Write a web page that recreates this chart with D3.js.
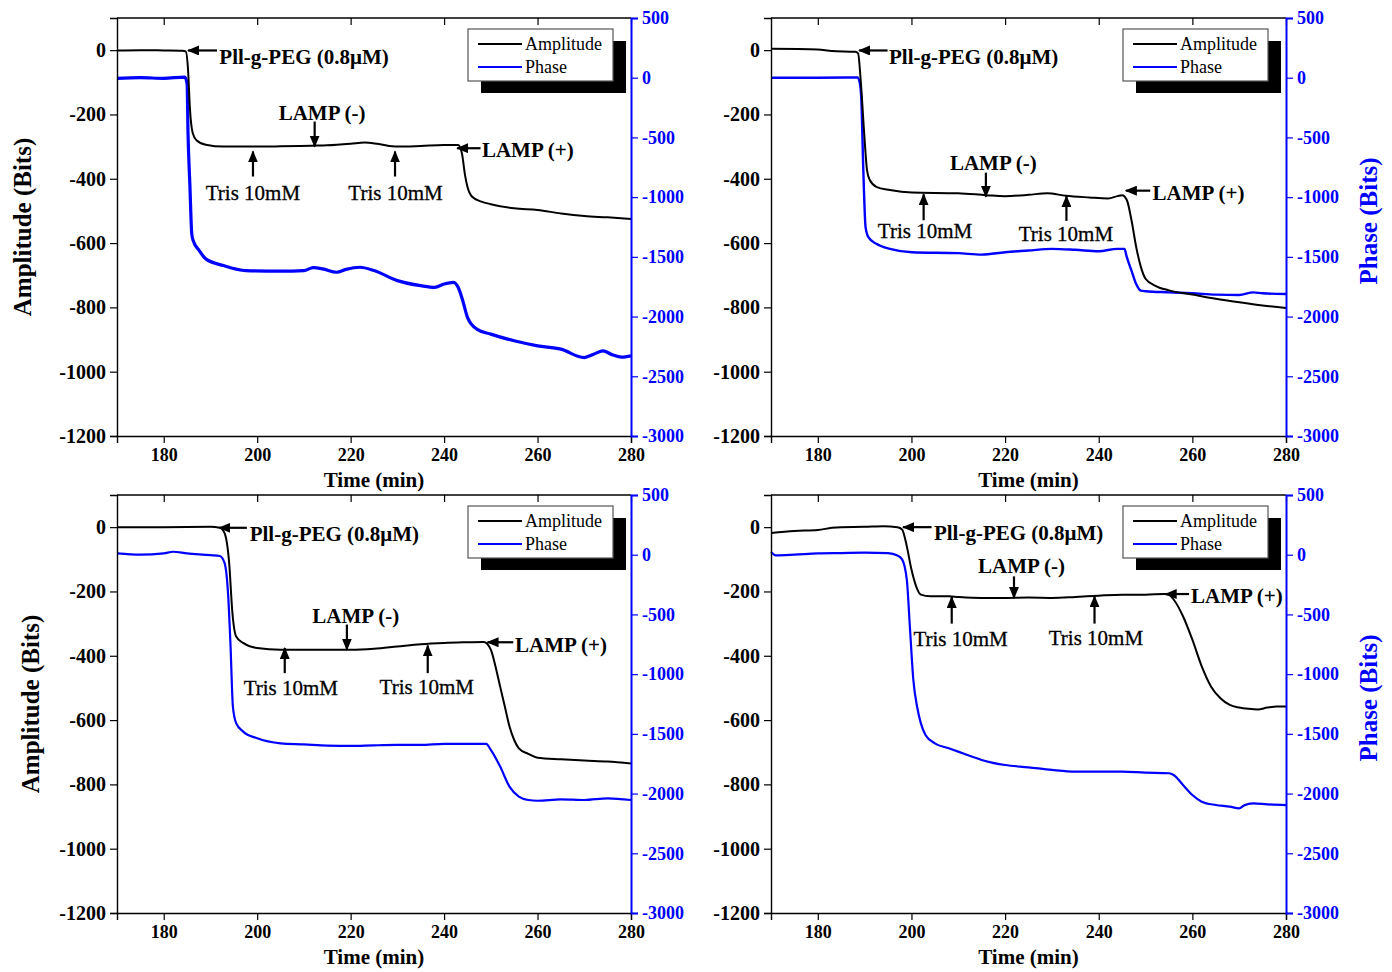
<!DOCTYPE html>
<html>
<head>
<meta charset="utf-8">
<script src="https://cdn.jsdelivr.net/npm/d3@7"></script>
<style>
  body { margin: 0; background: #fff; }
  svg { display: block; font-family: "Liberation Serif", "Times New Roman", serif; }
</style>
</head>
<body>
<svg id="chart" width="1392" height="972"></svg>
<script>
// shared axes
const timeDomain = [170, 280],
      ampDomain = [-1200, 100],
      phaseDomain = [-3000, 500]
const timeTicks = [180, 200, 220, 240, 260, 280],
      timeMinor = [170, 190, 210, 230, 250, 270],
      ampTicks = [-1200, -1000, -800, -600, -400, -200, 0],
      ampMinor = [-1100, -900, -700, -500, -300, -100],
      phaseTicks = [-3000, -2500, -2000, -1500, -1000, -500, 0, 500],
      phaseMinor = [-2750, -2250, -1750, -1250, -750, -250, 250]

// panel A (top left)
const ampA = [[170,-1],[175,0],[180,-1],[184,-2],[184.7,-4],[185.2,-60],[185.6,-180],[186.2,-258],[187,-280],[189,-294],[192.8,-300],[200,-300],[205,-299],[211.6,-297],[215,-296],[220,-291],[223,-287],[226,-292],[230,-300],[235,-298],[240,-295],[243,-295],[243.8,-320],[244.5,-390],[245,-425],[246,-456],[248,-471],[250,-479],[255,-492],[260,-497],[265,-508],[270,-516],[275,-520],[280,-525]]
const phaseA = [[170,-5],[175,0],[180,-5],[184.5,5],[185,-50],[185.2,-467],[185.6,-900],[186,-1307],[186.3,-1363],[187.6,-1447],[189,-1517],[192.8,-1573],[197.6,-1615],[205,-1620],[210,-1615],[212,-1590],[214,-1600],[217,-1629],[219,-1605],[222,-1587],[225,-1615],[230,-1699],[235,-1741],[238,-1755],[240,-1727],[242,-1713],[243,-1755],[244,-1867],[245,-2007],[247,-2105],[250,-2147],[255,-2203],[260,-2245],[265,-2273],[270,-2343],[272,-2315],[274,-2287],[276,-2320],[278,-2340],[280,-2329]]

// panel B (top right)
const ampB = [[170,4],[180,2],[183,-3],[188,-5],[188.6,-10],[189.2,-102],[189.9,-258],[190.5,-372],[191.1,-404],[192.5,-425],[195.4,-435],[200.1,-443],[210,-445],[216,-451],[220,-454],[225,-450],[229,-445],[233,-453],[238,-458],[242,-461],[244,-454],[245,-451],[246,-466],[247,-529],[248,-612],[249,-674],[250,-711],[252,-732],[255,-747],[260,-760],[265,-773],[270,-784],[275,-794],[280,-802]]
const phaseB = [[170,0],[180,0],[188.5,2],[189,-50],[189.3,-188],[189.7,-747],[190.2,-1251],[190.8,-1335],[192.5,-1391],[195.4,-1433],[200.1,-1461],[210,-1469],[215,-1481],[220,-1461],[225,-1447],[230,-1433],[235,-1441],[240,-1453],[244,-1433],[245.5,-1433],[246,-1503],[247,-1615],[248,-1727],[249,-1783],[250,-1788],[255,-1797],[260,-1805],[265,-1816],[270,-1819],[273,-1797],[275,-1805],[280,-1811]]

// panel C (bottom left)
const ampC = [[170,0],[180,0],[190,1],[192,-2],[193,-18],[194,-111],[194.7,-267],[195.5,-340],[197,-360],[200,-376],[205,-381],[210,-381],[215,-381],[220,-381],[225,-378],[230,-371],[235,-364],[240,-360],[245,-358],[248.5,-357],[250,-381],[251,-433],[252,-496],[253,-558],[254,-620],[255,-662],[256,-688],[258,-705],[260,-717],[265,-722],[270,-726],[275,-729],[280,-735]]
const phaseC = [[170,11],[175,0],[180,11],[182,25],[185,11],[190,-3],[192,-11],[193,-67],[193.8,-347],[194.3,-767],[194.8,-1271],[195.5,-1410],[197,-1481],[200,-1537],[205,-1579],[210,-1588],[215,-1598],[220,-1601],[225,-1596],[230,-1593],[235,-1593],[240,-1584],[245,-1584],[249,-1584],[250,-1634],[252,-1774],[254,-1942],[256,-2026],[258,-2054],[260,-2060],[265,-2049],[270,-2054],[275,-2040],[280,-2054]]

// panel D (bottom right)
const ampD = [[170,-18],[175,-12],[180,-9],[183,-2],[185,0],[190,1],[194,3],[197,0],[198,-7],[199,-59],[200,-132],[201,-184],[202,-210],[204,-215],[208,-215],[210,-217],[215,-220],[220,-220],[225,-219],[230,-220],[235,-217],[240,-213],[245,-210],[250,-210],[254,-208],[255,-210],[256,-225],[258,-277],[260,-350],[262,-433],[264,-496],[266,-532],[268,-553],[270,-561],[272,-565],[274,-567],[276,-561],[278,-558],[280,-558]]
const phaseD = [[170,22],[171,-6],[175,0],[180,11],[185,14],[190,17],[195,14],[197,-6],[198,-39],[199,-207],[199.7,-627],[200.4,-1047],[201.2,-1271],[202,-1410],[203,-1509],[205,-1579],[208,-1621],[210,-1649],[213,-1691],[215,-1719],[220,-1761],[225,-1780],[230,-1802],[235,-1816],[240,-1816],[245,-1816],[250,-1825],[255,-1830],[256,-1844],[258,-1928],[260,-2012],[262,-2068],[265,-2096],[268,-2110],[270,-2124],[271,-2100],[273,-2082],[276,-2090],[280,-2096]]

// annotations: arrows [tailT, tailAmp, tipT, tipAmp], labels [t, amp, text, anchor, bold]
const arrowsA = [[191.4,-1,185.2,-1],[212.3,-222,212.3,-300],[199.1,-393,199.1,-315],[229.5,-393,229.5,-315],[247.8,-305,242.8,-305]]
const labelsA = [[191.9,-20,"Pll-g-PEG (0.8μM)","start",true],[213.9,-195,"LAMP (-)","middle",true],[199.1,-442,"Tris 10mM","middle",false],[229.6,-442,"Tris 10mM","middle",false],[248.1,-309,"LAMP (+)","start",true]]
const arrowsB = [[194.9,-1,188.8,-1],[215.9,-381,215.9,-456],[202.6,-529,202.6,-448],[233.1,-531,233.1,-454],[251,-437,245.8,-437]]
const labelsB = [[195.2,-19,"Pll-g-PEG (0.8μM)","start",true],[217.5,-349,"LAMP (-)","middle",true],[202.9,-562,"Tris 10mM","middle",false],[233,-570,"Tris 10mM","middle",false],[251.5,-442,"LAMP (+)","start",true]]
const arrowsC = [[197.8,-2,191.9,-2],[219.2,-303,219.2,-381],[205.9,-454,205.9,-376],[236.5,-454,236.5,-368],[254.8,-358,249.3,-358]]
const labelsC = [[198.4,-20,"Pll-g-PEG (0.8μM)","start",true],[221.1,-274,"LAMP (-)","middle",true],[207.2,-498,"Tris 10mM","middle",false],[236.3,-496,"Tris 10mM","middle",false],[255.2,-365,"LAMP (+)","start",true]]
const arrowsD = [[204.3,0,198.2,0],[221.9,-153,221.9,-220],[208.6,-300,208.6,-217],[239.1,-300,239.1,-215],[259.3,-208,254.3,-208]]
const labelsD = [[204.8,-17,"Pll-g-PEG (0.8μM)","start",true],[223.5,-121,"LAMP (-)","middle",true],[210.5,-347,"Tris 10mM","middle",false],[239.4,-344,"Tris 10mM","middle",false],[259.7,-214,"LAMP (+)","start",true]]

const seriesNames = ["Amplitude", "Phase"],
      seriesColors = ["#000000", "#0000ff"]

const panels = [
  { left: 117, top: 18, width: 514, amp: ampA, phase: phaseA, arrows: arrowsA, labels: labelsA, ampTitle: -95, phaseTitle: null, phaseWidth: 3.2 },
  { left: 771, top: 18, width: 515, amp: ampB, phase: phaseB, arrows: arrowsB, labels: labelsB, ampTitle: null, phaseTitle: 82, phaseWidth: 2.4 },
  { left: 117, top: 495, width: 514, amp: ampC, phase: phaseC, arrows: arrowsC, labels: labelsC, ampTitle: -87, phaseTitle: null, phaseWidth: 2.2 },
  { left: 771, top: 495, width: 515, amp: ampD, phase: phaseD, arrows: arrowsD, labels: labelsD, ampTitle: null, phaseTitle: 82, phaseWidth: 2.2 }
]
const height = 418
const fmt = d => String(d)

const svg = d3.select("#chart")

svg.append("defs").append("marker")
    .attr("id", "head")
    .attr("viewBox", "0 0 12 10")
    .attr("refX", 11).attr("refY", 5)
    .attr("markerWidth", 12).attr("markerHeight", 10)
    .attr("markerUnits", "userSpaceOnUse")
    .attr("orient", "auto")
  .append("path")
    .attr("d", "M0,0L12,5L0,10Z")
    .attr("fill", "#000")

panels.forEach((p) => {
  const g = svg.append("g").attr("transform", `translate(${p.left},${p.top})`)

  const x = d3.scaleLinear().domain(timeDomain).range([0, p.width]),
        yA = d3.scaleLinear().domain(ampDomain).range([height, 0]),
        yP = d3.scaleLinear().domain(phaseDomain).range([height, 0])

  // curves
  const lineA = d3.line().x(d => x(d[0])).y(d => yA(d[1])).curve(d3.curveMonotoneX),
        lineP = d3.line().x(d => x(d[0])).y(d => yP(d[1])).curve(d3.curveMonotoneX)

  g.append("path").datum(p.phase)
      .attr("d", lineP)
      .attr("fill", "none")
      .attr("stroke", seriesColors[1])
      .attr("stroke-width", p.phaseWidth)
      .attr("stroke-linejoin", "round")

  g.append("path").datum(p.amp)
      .attr("d", lineA)
      .attr("fill", "none")
      .attr("stroke", seriesColors[0])
      .attr("stroke-width", 2)
      .attr("stroke-linejoin", "round")

  // axes
  const bottom = g.append("g").attr("transform", `translate(0,${height})`)
  bottom.call(d3.axisBottom(x).tickValues(timeMinor).tickSize(4).tickFormat(""))
  bottom.call(d3.axisBottom(x).tickValues(timeTicks).tickSize(7).tickPadding(5).tickFormat(fmt))
  bottom.selectAll("text").attr("font-size", 18).attr("font-weight", "bold").attr("fill", "#000")

  const top = g.append("g")
  top.call(d3.axisBottom(x).tickValues(timeMinor).tickSize(4).tickFormat(""))
  top.call(d3.axisBottom(x).tickValues(timeTicks).tickSize(7).tickFormat(""))

  const left = g.append("g")
  left.call(d3.axisLeft(yA).tickValues(ampMinor).tickSize(4).tickFormat(""))
  left.call(d3.axisLeft(yA).tickValues(ampTicks).tickSize(7).tickPadding(4).tickFormat(fmt))
  left.selectAll("text").attr("font-size", 20).attr("font-weight", "bold").attr("fill", "#000")

  const right = g.append("g").attr("transform", `translate(${p.width},0)`)
  right.call(d3.axisRight(yP).tickValues(phaseMinor).tickSize(4).tickFormat(""))
  right.call(d3.axisRight(yP).tickValues(phaseTicks).tickSize(7).tickPadding(4).tickFormat(fmt))
  right.selectAll("text").attr("font-size", 18).attr("font-weight", "bold").attr("fill", seriesColors[1])
  right.selectAll("line").attr("stroke", seriesColors[1])
  right.select(".domain").attr("stroke", seriesColors[1]).attr("stroke-width", 2)

  ;[bottom, top, left, right].forEach(a => a.attr("font-family", null).attr("font-size", null))

  g.selectAll(".domain").filter(function () { return this.parentNode !== right.node() })
      .attr("stroke-width", 1.4)
  g.selectAll(".tick line").attr("stroke-width", 1.2)
  top.selectAll(".domain").attr("d", `M0,0H${p.width}`)

  // axis titles
  g.append("text")
      .attr("x", p.width / 2).attr("y", height + 51)
      .attr("text-anchor", "middle")
      .attr("font-size", 21).attr("font-weight", "bold")
      .text("Time (min)")

  if (p.ampTitle !== null) {
    g.append("text")
        .attr("transform", `translate(${p.ampTitle},${height / 2}) rotate(-90)`)
        .attr("text-anchor", "middle").attr("dy", "0.35em")
        .attr("font-size", 25).attr("font-weight", "bold")
        .text("Amplitude (Bits)")
  }
  if (p.phaseTitle !== null) {
    g.append("text")
        .attr("transform", `translate(${p.width + p.phaseTitle},${height / 2 - 6}) rotate(-90)`)
        .attr("text-anchor", "middle").attr("dy", "0.35em")
        .attr("font-size", 25).attr("font-weight", "bold")
        .attr("fill", seriesColors[1])
        .text("Phase (Bits)")
  }

  // annotations
  g.selectAll(".arrow").data(p.arrows).enter().append("line")
      .attr("class", "arrow")
      .attr("x1", d => x(d[0])).attr("y1", d => yA(d[1]))
      .attr("x2", d => x(d[2])).attr("y2", d => yA(d[3]))
      .attr("stroke", "#000").attr("stroke-width", 2.2)
      .attr("marker-end", "url(#head)")

  g.selectAll(".note").data(p.labels).enter().append("text")
      .attr("class", "note")
      .attr("x", d => x(d[0])).attr("y", d => yA(d[1]))
      .attr("dy", "0.35em")
      .attr("text-anchor", d => d[3])
      .attr("font-size", 21)
      .attr("font-weight", d => d[4] ? "bold" : "normal")
      .attr("stroke", d => d[4] ? "none" : "#000")
      .attr("stroke-width", 0.3)
      .text(d => d[2])

  // legend
  const lg = g.append("g").attr("transform", `translate(${p.width - 163},11)`)
  lg.append("rect").attr("x", 13).attr("y", 12).attr("width", 145).attr("height", 52).attr("fill", "#000")
  lg.append("rect").attr("width", 145).attr("height", 52)
      .attr("fill", "#fff").attr("stroke", "#555").attr("stroke-width", 1.2)
  seriesNames.forEach((name, i) => {
    lg.append("line")
        .attr("x1", 10).attr("x2", 54)
        .attr("y1", 15 + i * 23).attr("y2", 15 + i * 23)
        .attr("stroke", seriesColors[i]).attr("stroke-width", 2.2)
    lg.append("text")
        .attr("x", 57).attr("y", 15 + i * 23).attr("dy", "0.35em")
        .attr("font-size", 18)
        .text(name)
  })
})
</script>
</body>
</html>
